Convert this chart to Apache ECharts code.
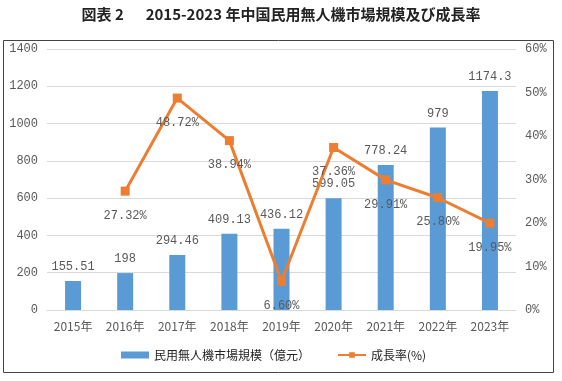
<!DOCTYPE html>
<html>
<head>
<meta charset="utf-8">
<script src="https://cdn.jsdelivr.net/npm/echarts@6/dist/echarts.min.js"></script>
<style>html,body{margin:0;padding:0;background:#fff}#c{width:562px;height:381px}</style>
</head>
<body>
<div id="c"></div>
<script>
var categories = ['2015年','2016年','2017年','2018年','2019年','2020年','2021年','2022年','2023年'];
var marketSize = [155.51, 198, 294.46, 409.13, 436.12, 599.05, 778.24, 979, 1174.3];
var growthRate = [null, 27.32, 48.72, 38.94, 6.60, 37.36, 29.91, 25.80, 19.95];
var leftTicks = [0, 1400, 200];
var rightTicks = [0, 60, 10];
var seriesNames = ['民用無人機市場規模（億元）', '成長率(%)'];
var titleText = '図表 2\u3000  2015-2023 年中国民用無人機市場規模及び成長率';

var chart = echarts.init(document.getElementById('c'), null, {renderer: 'canvas'});
var labelFont = '"Liberation Mono", monospace';
chart.setOption({
  animation: false,
  title: {
    text: titleText, left: 'center', top: 2,
    textStyle: {fontSize: 15, fontWeight: 'bold', color: '#222', fontFamily: '"Noto Sans CJK JP", sans-serif'}
  },
  graphic: [{
    type: 'rect', shape: {x: 3.5, y: 40.5, width: 550, height: 332},
    style: {fill: 'none', stroke: '#444', lineWidth: 1}, silent: true, z: -1
  }],
  legend: {
    bottom: 15, left: 116, itemGap: 27, itemWidth: 28, itemHeight: 7,
    textStyle: {fontSize: 12, color: '#222', fontFamily: '"Noto Sans CJK JP", sans-serif'},
    data: [{name: seriesNames[0], icon: 'rect'}, {name: seriesNames[1]}]
  },
  grid: {left: 47, right: 46, top: 49, bottom: 71},
  xAxis: {
    type: 'category', data: categories,
    axisLine: {show: true, lineStyle: {color: '#d9d9d9'}},
    axisTick: {show: false},
    axisLabel: {margin: 10, fontSize: 12, color: '#595959', fontFamily: '"Noto Sans CJK SC", sans-serif'}
  },
  yAxis: [{
    type: 'value', min: leftTicks[0], max: leftTicks[1], interval: leftTicks[2],
    axisLine: {show: false}, axisTick: {show: false},
    splitLine: {lineStyle: {color: '#d9d9d9'}},
    axisLabel: {margin: 9, fontSize: 12, color: '#595959', fontFamily: labelFont, formatter: function (v) { return String(v); }}
  }, {
    type: 'value', min: rightTicks[0], max: rightTicks[1], interval: rightTicks[2],
    axisLine: {show: false}, axisTick: {show: false}, splitLine: {show: false},
    axisLabel: {margin: 9, fontSize: 12, color: '#595959', fontFamily: labelFont, formatter: '{value}%'}
  }],
  series: [{
    name: seriesNames[0], type: 'bar', data: marketSize, barWidth: 16,
    itemStyle: {color: '#5B9BD5'},
    label: {show: true, position: 'top', distance: 8, fontSize: 12, color: '#595959', fontFamily: labelFont}
  }, {
    name: seriesNames[1], type: 'line', yAxisIndex: 1, data: growthRate,
    lineStyle: {color: '#ED7D31', width: 3}, itemStyle: {color: '#ED7D31'},
    symbol: 'rect', symbolSize: 9,
    label: {show: true, position: 'bottom', distance: 14, fontSize: 12, color: '#595959', fontFamily: labelFont,
      formatter: function (p) { return p.value.toFixed(2) + '%'; }}
  }]
});
</script>
</body>
</html>
